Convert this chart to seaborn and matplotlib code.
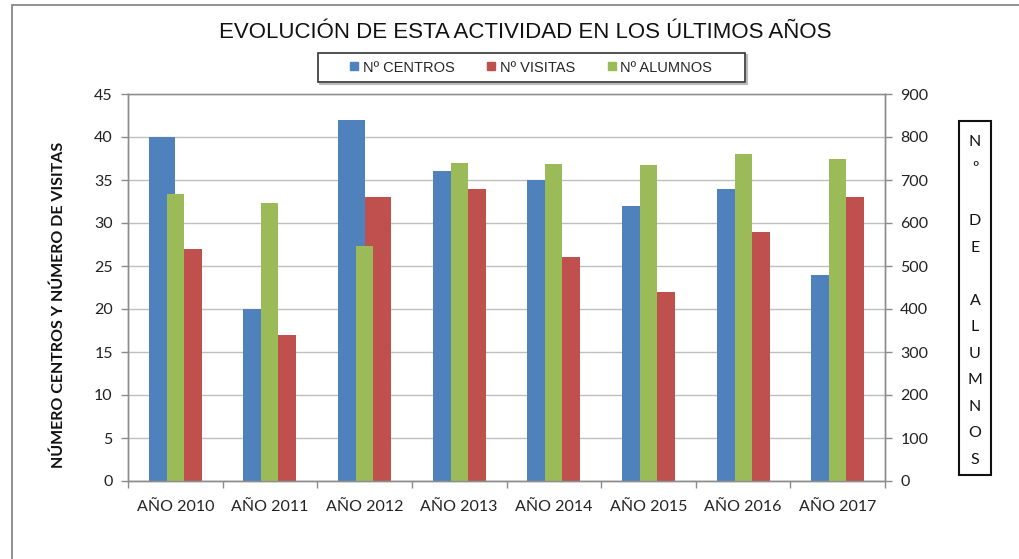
import matplotlib
matplotlib.use("Agg")
import matplotlib.pyplot as plt
from matplotlib.patches import Rectangle
from matplotlib.lines import Line2D
import seaborn as sns
import pandas as pd

# ---- data ----
years = ["AÑO 2010", "AÑO 2011", "AÑO 2012", "AÑO 2013",
         "AÑO 2014", "AÑO 2015", "AÑO 2016", "AÑO 2017"]
centros = [40, 20, 42, 36, 35, 32, 34, 24]
visitas = [27, 17, 33, 34, 26, 22, 29, 33]
alumnos = [667, 647, 546, 740, 737, 736, 760, 748]
series_names = ["Nº CENTROS", "Nº VISITAS", "Nº ALUMNOS"]
title = "EVOLUCIÓN DE ESTA ACTIVIDAD EN LOS ÚLTIMOS AÑOS"
left_label = "NÚMERO CENTROS Y NÚMERO DE VISITAS"
right_label_lines = ["N", "º", "", "D", "E", "", "A", "L", "U", "M", "N", "O", "S"]

BLUE = "#4F81BD"
RED = "#C0504D"
GREEN = "#9BBB59"
GRID = "#BFBFBF"
AX = "#8C8C8C"

sns.set_theme(style="white")
plt.rcParams['font.family'] = ['Lato', 'DejaVu Sans']

W, H = 1019, 559
fig = plt.figure(figsize=(W / 100, H / 100), dpi=100)

def fx(px):
    return px / W

def fy(py):
    return 1 - py / H

ax = fig.add_axes([fx(128), fy(481), fx(885) - fx(128), fy(94) - fy(481)])

df = pd.DataFrame({
    "year": years * 2,
    "serie": [series_names[0]] * len(years) + [series_names[1]] * len(years),
    "valor": centros + visitas,
})
sns.barplot(data=df, x="year", y="valor", hue="serie",
            hue_order=series_names[:2], palette=[BLUE, RED],
            width=0.56, saturation=1, legend=False, ax=ax, zorder=2,
            linewidth=0, edgecolor="none")

ax2 = ax.twinx()
sns.barplot(x=years, y=alumnos, color=GREEN, width=0.18, saturation=1,
            ax=ax2, zorder=2, linewidth=0, edgecolor="none")

# axes styling
ax.set_ylim(0, 45)
ax.set_yticks(range(0, 46, 5))
ax2.set_ylim(0, 900)
ax2.set_yticks(range(0, 901, 100))
ax.set_xlim(-0.5, len(years) - 0.5)
ax2.set_xlim(-0.5, len(years) - 0.5)
for a in (ax, ax2):
    a.set_xlabel("")
    a.set_ylabel("")
ax.set_axisbelow(True)
ax.yaxis.grid(True, color=GRID, linewidth=1.0)
ax.xaxis.grid(False)
ax2.grid(False)

for a in (ax, ax2):
    for s in a.spines.values():
        s.set_color(AX)
        s.set_linewidth(1.0)
        s.set_visible(True)
ax.spines["top"].set_color(GRID)

ax.tick_params(axis="y", which="major", direction="out", length=5, width=1,
               color=AX, labelsize=11.5, labelcolor="#222222", pad=6, left=True)
ax2.tick_params(axis="y", which="major", direction="out", length=5, width=1,
                color=AX, labelsize=11.5, labelcolor="#222222", pad=6, right=True)
ax.tick_params(axis="x", which="major", length=0, labelsize=11.5,
               labelcolor="#222222", pad=14)
ax.set_xticks([i + 0.5 for i in range(-1, len(years))], minor=True)
ax.tick_params(axis="x", which="minor", direction="out", length=5, width=1,
               color=AX, bottom=True)
ax2.tick_params(axis="x", length=0)

# left y label
fig.text(fx(59), fy(305), left_label, rotation=90, ha="center", va="center",
         fontsize=11.5, fontweight="bold", color="#111111")

# title
fig.text(fx(525), fy(33), title, ha="center", va="center", fontsize=16,
         color="#111111", family=['Liberation Sans', 'DejaVu Sans'])

# legend frame + legend
fig.patches.append(Rectangle((fx(320), fy(84)), fx(747) - fx(320), fy(55) - fy(84),
                             transform=fig.transFigure, fill=False,
                             edgecolor="#BBBBBB", linewidth=1.5, zorder=4))
fig.patches.append(Rectangle((fx(318), fy(82)), fx(745) - fx(318), fy(53) - fy(82),
                             transform=fig.transFigure, facecolor="white",
                             edgecolor="#333333", linewidth=1.2, zorder=5))
handles = [Line2D([], [], marker="s", linestyle="none", markersize=6,
                  markerfacecolor=c, markeredgecolor=c) for c in (BLUE, RED, GREEN)]
leg = fig.legend(handles, series_names, loc="center", bbox_to_anchor=(fx(531), fy(67.5)),
                 ncol=3, frameon=False, handlelength=0.6, handletextpad=0.3,
                 columnspacing=2.2,
                 prop={"family": ['Liberation Sans', 'DejaVu Sans'], "size": 10.5})
leg.set_zorder(6)

# right label box
fig.patches.append(Rectangle((fx(959), fy(475)), fx(991) - fx(959), fy(121) - fy(475),
                             transform=fig.transFigure, fill=False,
                             edgecolor="#111111", linewidth=1.5, zorder=5))
for i, ch in enumerate(right_label_lines):
    if ch:
        fig.text(fx(975), fy(141.7 + i * 26.5), ch, ha="center", va="center",
                 fontsize=11.5, color="#111111")

# outer chart border
fig.patches.append(Rectangle((fx(12), fy(575)), fx(1030) - fx(12), fy(5) - fy(575),
                             transform=fig.transFigure, fill=False,
                             edgecolor="#7F7F7F", linewidth=1.2, zorder=5))

fig.savefig("out.png", dpi=100)
